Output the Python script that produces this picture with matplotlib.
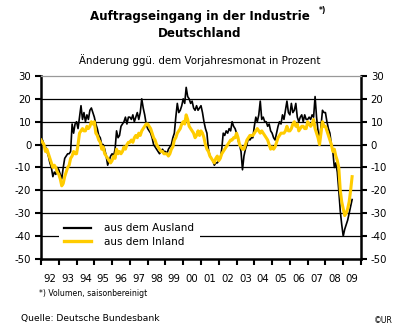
import matplotlib
matplotlib.use("Agg")
import matplotlib.pyplot as plt

# monthly change vs. same month of previous year, in percent (Jan 1992 - Jul 2009)
ausland = {
    1992: [1, 2, 0, -1, -3, -5, -8, -10, -14, -12, -13, -10],
    1993: [-11, -13, -15, -10, -6, -5, -4, -4, -3, 9, 5, 9],
    1994: [10, 7, 12, 17, 11, 14, 10, 13, 11, 15, 16, 14],
    1995: [12, 9, 7, 4, 3, 0, 0, -2, -5, -9, -7, -5],
    1996: [-4, -5, -2, 6, 3, 4, 8, 9, 10, 12, 9, 12],
    1997: [12, 11, 13, 10, 12, 14, 11, 14, 20, 16, 13, 9],
    1998: [7, 6, 5, 3, 0, -1, -2, -3, -4, -3, -2, -3],
    1999: [-3, -4, -2, -1, 0, 3, 5, 12, 18, 14, 15, 17],
    2000: [20, 18, 25, 21, 20, 18, 19, 16, 15, 17, 15, 16],
    2001: [17, 14, 10, 7, 5, -2, -5, -6, -7, -9, -8, -8],
    2002: [-7, -6, -2, 5, 4, 6, 5, 7, 6, 10, 8, 7],
    2003: [5, 2, 0, -3, -11, -5, -2, 0, 3, 2, 3, 3],
    2004: [8, 12, 10, 13, 19, 11, 12, 10, 10, 8, 9, 6],
    2005: [5, 3, 2, 5, 8, 10, 9, 13, 11, 15, 19, 14],
    2006: [13, 18, 14, 15, 18, 12, 10, 12, 13, 10, 13, 11],
    2007: [11, 12, 11, 13, 12, 21, 12, 6, 2, 8, 15, 14],
    2008: [14, 10, 7, 5, 0, -3, -10, -8, -12, -20, -29, -35],
    2009: [-40, -37, -35, -33, -30, -27, -24],
}
inland = {
    1992: [2, 1, 0, -3, -2, -4, -6, -8, -10, -9, -10, -12],
    1993: [-13, -15, -18, -17, -14, -12, -10, -9, -6, -5, -3, -4],
    1994: [-4, 0, 5, 6, 7, 6, 6, 8, 7, 8, 10, 9],
    1995: [10, 5, 4, 2, 1, -2, -1, -4, -5, -6, -7, -8],
    1996: [-7, -5, -6, -2, -4, -3, -4, -3, -1, -2, 0, 1],
    1997: [1, 2, 1, 3, 4, 3, 5, 4, 6, 7, 8, 9],
    1998: [9, 8, 7, 5, 3, 2, 0, -1, -2, -3, -3, -4],
    1999: [-4, -4, -5, -4, -2, -1, 2, 3, 5, 6, 7, 9],
    2000: [10, 9, 13, 11, 8, 7, 6, 5, 3, 4, 6, 4],
    2001: [6, 5, 3, 0, -2, -3, -5, -6, -7, -8, -6, -5],
    2002: [-7, -6, -4, -3, -2, -1, 0, 1, 2, 2, 3, 3],
    2003: [5, 3, 0, -1, -2, -2, 0, 2, 3, 4, 4, 4],
    2004: [5, 6, 7, 6, 5, 6, 5, 4, 3, 2, 0, -2],
    2005: [-1, -2, -1, 1, 3, 4, 5, 5, 5, 6, 8, 6],
    2006: [6, 7, 9, 10, 8, 9, 6, 7, 8, 8, 7, 7],
    2007: [10, 9, 8, 9, 11, 7, 5, 3, 0, 5, 10, 8],
    2008: [8, 6, 4, 2, 0, -3, -2, -5, -7, -10, -20, -25],
    2009: [-28, -31, -30, -28, -25, -20, -14],
}
years = list(range(1992, 2010))
year_labels = ["%02d" % (y % 100) for y in years]
y_ticks = [-50, -40, -30, -20, -10, 0, 10, 20, 30]


def flatten(series):
    xs, ys = [], []
    for yr in sorted(series):
        for m, v in enumerate(series[yr]):
            xs.append(yr + m / 12.0)
            ys.append(v)
    return xs, ys


plt.rcParams['font.family'] = ['DejaVu Sans']

fig = plt.figure(figsize=(4, 3.36), dpi=100)
ax = fig.add_axes([0.1025, 0.229, 0.8, 0.545])

xa, ya = flatten(ausland)
xi, yi = flatten(inland)
ax.plot(xa, ya, color='black', lw=1.2, label='aus dem Ausland', zorder=3)
ax.plot(xi, yi, color='#ffcc00', lw=2.2, label='aus dem Inland', zorder=4)

for v in y_ticks[1:-1]:
    ax.axhline(v, color='black', lw=0.9, zorder=1)

ax.set_xlim(1992, 2010)
ax.set_ylim(-50, 30)

ax.set_xticks(years + [2010])
ax.set_xticklabels([])
ax.set_xticks([y + 0.5 for y in years], minor=True)
ax.set_xticklabels(year_labels, minor=True)
ax.tick_params(axis='x', which='major', direction='out', length=4, width=1.5)
ax.tick_params(axis='x', which='minor', length=0, pad=11, labelsize=7.3)

ax.set_yticks(y_ticks)
ax.set_yticklabels([str(v) for v in y_ticks])
ax.tick_params(axis='y', direction='out', length=4, width=1.5, labelsize=7.3,
               right=True, labelright=True, pad=3)

for side in ['left', 'right', 'bottom']:
    ax.spines[side].set_linewidth(1.8)
ax.spines['top'].set_color('#999999')
ax.spines['top'].set_linewidth(0.9)

leg = ax.legend(loc='lower left', bbox_to_anchor=(0.045, 0.02), fontsize=7.5,
                frameon=True, fancybox=False, edgecolor='none', facecolor='white',
                framealpha=1, handlelength=2.6, handletextpad=1.3,
                borderpad=0.5, labelspacing=0.35, borderaxespad=0.3)
leg.set_zorder(5)
leg.get_frame().set_linewidth(0)
for line in leg.get_lines():
    line.set_linewidth(2.4 if line.get_color() == '#ffcc00' else 1.6)

fig.text(0.5, 0.951, 'Auftragseingang in der Industrie', ha='center', va='center',
         fontsize=8.6, fontweight='bold')
fig.text(0.798, 0.968, '*)', ha='left', va='center', fontsize=5.5, fontweight='bold')
fig.text(0.5, 0.900, 'Deutschland', ha='center', va='center',
         fontsize=8.6, fontweight='bold')
fig.text(0.5, 0.821, 'Änderung ggü. dem Vorjahresmonat in Prozent', ha='center',
         va='center', fontsize=7.4)
fig.text(0.098, 0.125, '*) Volumen, saisonbereinigt', ha='left', va='center',
         fontsize=5.6)
fig.text(0.052, 0.051, 'Quelle: Deutsche Bundesbank', ha='left', va='center',
         fontsize=6.6)
fig.text(0.935, 0.045, '©UR', ha='left', va='center', fontsize=5.6)

fig.savefig('out.png', dpi=100)
